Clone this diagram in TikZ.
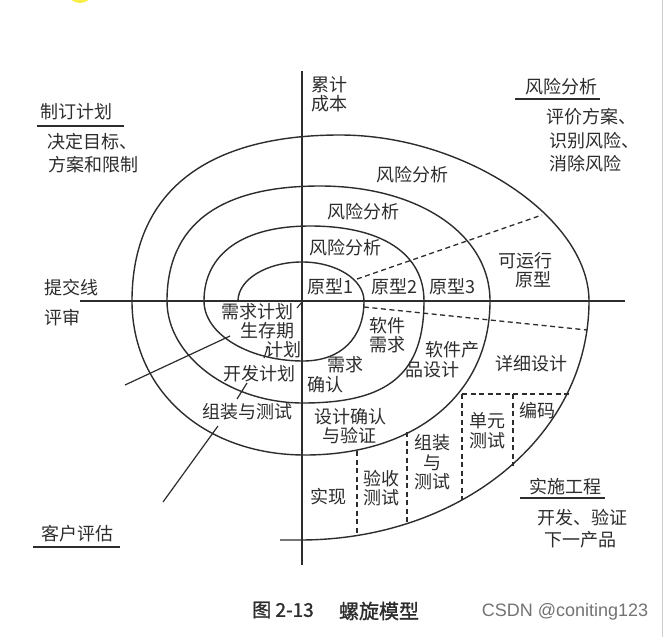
\documentclass[tikz,border=0pt]{standalone}
\usepackage{fontspec}
\newfontfamily\cjk{Noto Sans CJK SC}
\newfontfamily\cjkbold[FakeBold=1.2]{Noto Sans CJK SC}
\newfontfamily\latinsans{Liberation Sans}
\definecolor{ink}{RGB}{45,45,45}
\definecolor{wm}{RGB}{115,115,115}
\definecolor{blob}{RGB}{250,238,70}
\definecolor{frame}{RGB}{205,205,205}
\begin{document}
\begin{tikzpicture}[x=1pt,y=-1pt,
  curve/.style={draw=ink, line width=1.4pt},
  axisline/.style={draw=ink, line width=1.4pt},
  uline/.style={draw=ink, line width=1.2pt},
  dsh/.style={draw=ink, line width=1.3pt, dash pattern=on 5pt off 3.5pt},
  lbl/.style={font=\cjk\fontsize{18}{18}\selectfont, text=ink, inner sep=0pt, anchor=center},
  lblw/.style={lbl, anchor=west}]
\useasboundingbox (0,0) rectangle (664,637);
\clip (0,0) rectangle (664,637);
\fill[white] (0,0) rectangle (664,637);
\fill[blob] (80,-7) ellipse[x radius=12, y radius=10];
\draw[frame, line width=1pt] (662.5,0) -- (662.5,637);

% axes
\coordinate (axL) at (80,301);
\coordinate (axR) at (625,301);
\coordinate (axT) at (302,71);
\coordinate (axB) at (302,565);
\draw[axisline] (axL) -- (axR);
\draw[axisline] (axT) -- (axB);

% spiral
\draw[curve] (238,301) .. controls (238,279.5) and (266.7,262) .. (302,262)
  .. controls (336.2,262) and (364,279.5) .. (364,301)
  .. controls (364,338.2) and (340.8,361) .. (303,361)
  .. controls (248.9,361) and (204,334.1) .. (204,301)
  .. controls (204,253.7) and (243.2,226) .. (310,226)
  .. controls (381.8,226) and (424,253.7) .. (424,301)
  .. controls (424,373.4) and (388.9,403) .. (303,403)
  .. controls (229.6,403) and (167,356.1) .. (167,301)
  .. controls (167,225.1) and (219,186) .. (320,186)
  .. controls (418.6,186) and (490,234.3) .. (490,301)
  .. controls (490,393.4) and (416,455) .. (305,455)
  .. controls (204.1,455) and (132,390.3) .. (132,301)
  .. controls (132,193.1) and (204.8,135) .. (340,135)
  .. controls (464.5,135) and (589,218) .. (589,301)
  .. controls (589,434.8) and (461.8,540) .. (300,540)
  -- (280,540);

% dashed lines
\draw[dsh] (357,279) -- (542,215);
\draw[dsh] (364,307) -- (587,330);
\draw[dsh] (462,394) -- (570,394);
\draw[dsh] (357,451) -- (357,535);
\draw[dsh] (407,432) -- (407,523);
\draw[dsh] (462,394) -- (462,500);
\draw[dsh] (513,394) -- (513,466);

% leader lines
\draw[curve, line width=1.2pt] (230,336) -- (125,385);
\draw[curve, line width=1.2pt] (218,426) -- (163,502);
\draw[curve, line width=1.2pt] (247,383) -- (237,399);
\draw[curve, line width=1.1pt] (268,346) -- (264,358);
\draw[curve, line width=1.1pt] (297,308) -- (302,302);

% corner labels
\node[lbl] (leiji) at (329.5,85) {累计};
\node[lbl] (chengben) at (329.5,104) {成本};
\node[lbl] (zhiding) at (76,112) {制订计划};
\draw[uline] (37,126) -- (124,126);
\node[lblw] (jueding) at (47,142) {决定目标、};
\node[lblw] (fangan) at (48,165) {方案和限制};
\node[lbl] (fxtitle) at (561,87) {风险分析};
\draw[uline] (515,99) -- (600,99);
\node[lblw] (pingjia) at (546,117) {评价方案、};
\node[lblw] (shibie) at (549,141) {识别风险、};
\node[lblw] (xiaochu) at (549,164) {消除风险};
\node[lblw] (tijiao) at (44,288) {提交线};
\node[lblw] (pingshen) at (44,318) {评审};
\node[lbl] (ssgc) at (565,487) {实施工程};
\draw[uline] (520,498) -- (605,498);
\node[lbl] (kfyz) at (582,518) {开发、验证};
\node[lbl] (xycp) at (580,540) {下一产品};
\node[lbl] (khpg) at (77,534) {客户评估};
\draw[uline] (33,547) -- (120,547);

% spiral labels
\node[lbl] (fx4) at (412,175) {风险分析};
\node[lbl] (fx3) at (363,212) {风险分析};
\node[lbl] (fx2) at (345,248) {风险分析};
\node[lbl] (yx1) at (330,287) {原型1};
\node[lbl] (yx2) at (394,287) {原型2};
\node[lbl] (yx3) at (452,287) {原型3};
\node[lbl] (keyun) at (525,261) {可运行};
\node[lbl] (keyunyx) at (533,280) {原型};
\node[lbl] (xqjh) at (257,312) {需求计划};
\node[lbl] (scq) at (267,331) {生存期};
\node[lbl] (jh) at (283,350) {计划};
\node[lbl] (kfjh) at (259,374) {开发计划};
\node[lbl] (zzcs) at (247,412) {组装与测试};
\node[lbl] (rj) at (387,326) {软件};
\node[lbl] (xq) at (387,345) {需求};
\node[lbl] (xq2) at (345,365) {需求};
\node[lbl] (qr) at (325,385) {确认};
\node[lbl] (rjc) at (452,350) {软件产};
\node[lbl] (pjsj) at (432,370) {品设计};
\node[lbl] (xxsj) at (531,364) {详细设计};
\node[lbl] (sjqr) at (350,417) {设计确认};
\node[lbl] (yyz) at (349,436) {与验证};
\node[lbl] (sx) at (328,497) {实现};
\node[lbl] (ys) at (381,479) {验收};
\node[lbl] (cs1) at (381,498) {测试};
\node[lbl] (zz) at (432,443) {组装};
\node[lbl] (yu) at (432,463) {与};
\node[lbl] (cs2) at (432,482) {测试};
\node[lbl] (dy) at (487,421) {单元};
\node[lbl] (cs3) at (487,441) {测试};
\node[lbl] (bm) at (537,411) {编码};

% caption and watermark
\node[lbl, font=\cjkbold\fontsize{19}{19}\selectfont] (fig) at (283,610) {图 2-13};
\node[lbl, font=\cjkbold\fontsize{20}{20}\selectfont] (title) at (379,611) {螺旋模型};
\node[font=\latinsans\fontsize{18}{18}\selectfont, text=wm, inner sep=0pt] (csdn) at (565,612) {CSDN @coniting123};
\end{tikzpicture}
\end{document}
